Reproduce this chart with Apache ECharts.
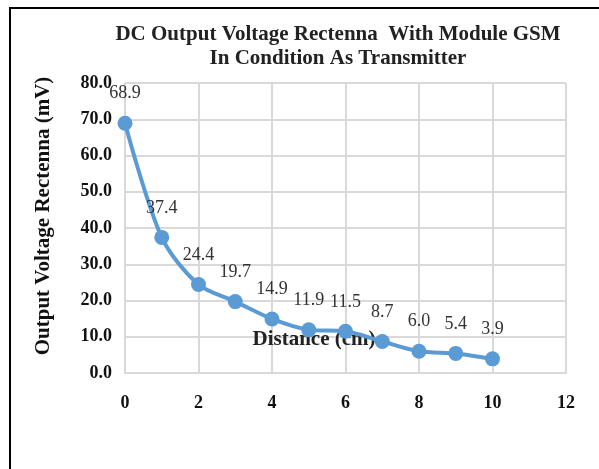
<!DOCTYPE html>
<html>
<head>
<meta charset="utf-8">
<script src="https://cdn.jsdelivr.net/npm/echarts@6/dist/echarts.min.js"></script>
<style>html,body{margin:0;padding:0;background:#fff;}#c{width:599px;height:469px;}</style>
</head>
<body>
<div id="c"></div>
<script>
var distances = [0, 1, 2, 3, 4, 5, 6, 7, 8, 9, 10];
var voltages = [68.9, 37.4, 24.4, 19.7, 14.9, 11.9, 11.5, 8.7, 6.0, 5.4, 3.9];
var titleText = 'DC Output Voltage Rectenna  With Module GSM\nIn Condition As Transmitter';
var xName = 'Distance (cm)';
var yName = 'Output Voltage Rectenna (mV)';

var serif = '"Liberation Serif", "Times New Roman", serif';
var chart = echarts.init(document.getElementById('c'));
chart.setOption({
  backgroundColor: '#fff',
  animation: false,
  title: {
    text: titleText,
    left: 333, top: 18, textAlign: 'center',
    textStyle: {fontFamily: serif, fontWeight: 'bold', fontSize: 21, color: '#222', lineHeight: 24}
  },
  grid: {left: 125, right: 33, top: 83, bottom: 96},
  xAxis: {
    type: 'value', min: 0, max: 12, interval: 2,
    axisLine: {show: true, lineStyle: {color: '#d9d9d9', width: 2}},
    axisTick: {show: false},
    splitLine: {show: true, lineStyle: {color: '#d9d9d9', width: 2}},
    axisLabel: {fontFamily: serif, fontWeight: 'bold', fontSize: 18, color: '#111', margin: 21}
  },
  yAxis: {
    type: 'value', min: 0, max: 80, interval: 10,
    axisLine: {show: true, lineStyle: {color: '#d9d9d9', width: 2}},
    axisTick: {show: false},
    splitLine: {show: true, lineStyle: {color: '#d9d9d9', width: 2}},
    axisLabel: {fontFamily: serif, fontWeight: 'bold', fontSize: 18, color: '#111', margin: 13,
      formatter: function (v) { return v.toFixed(1); }}
  },
  graphic: [
    {type: 'polyline', shape: {points: [[10, 469], [10, 8], [599, 8]]}, style: {stroke: '#000', lineWidth: 2, fill: null}, z: 100},
    {type: 'text', x: 314, y: 340, z: 1, style: {text: xName, font: 'bold 21px ' + serif, fill: '#222', align: 'center', verticalAlign: 'middle'}},
    {type: 'text', x: 44, y: 216, rotation: Math.PI / 2, z: 1, style: {text: yName, font: 'bold 21px ' + serif, fill: '#111', align: 'center', verticalAlign: 'middle'}}
  ],
  series: [{
    type: 'line',
    data: distances.map(function (d, i) { return [d, voltages[i]]; }),
    smooth: 0.3,
    symbol: 'circle', symbolSize: 15,
    itemStyle: {color: '#5b9bd5'},
    lineStyle: {color: '#5b9bd5', width: 4},
    z: 5,
    label: {
      show: true, position: 'top', distance: 13,
      fontFamily: serif, fontSize: 18, color: '#333',
      formatter: function (p) { return p.value[1].toFixed(1); }
    }
  }]
});
</script>
</body>
</html>
